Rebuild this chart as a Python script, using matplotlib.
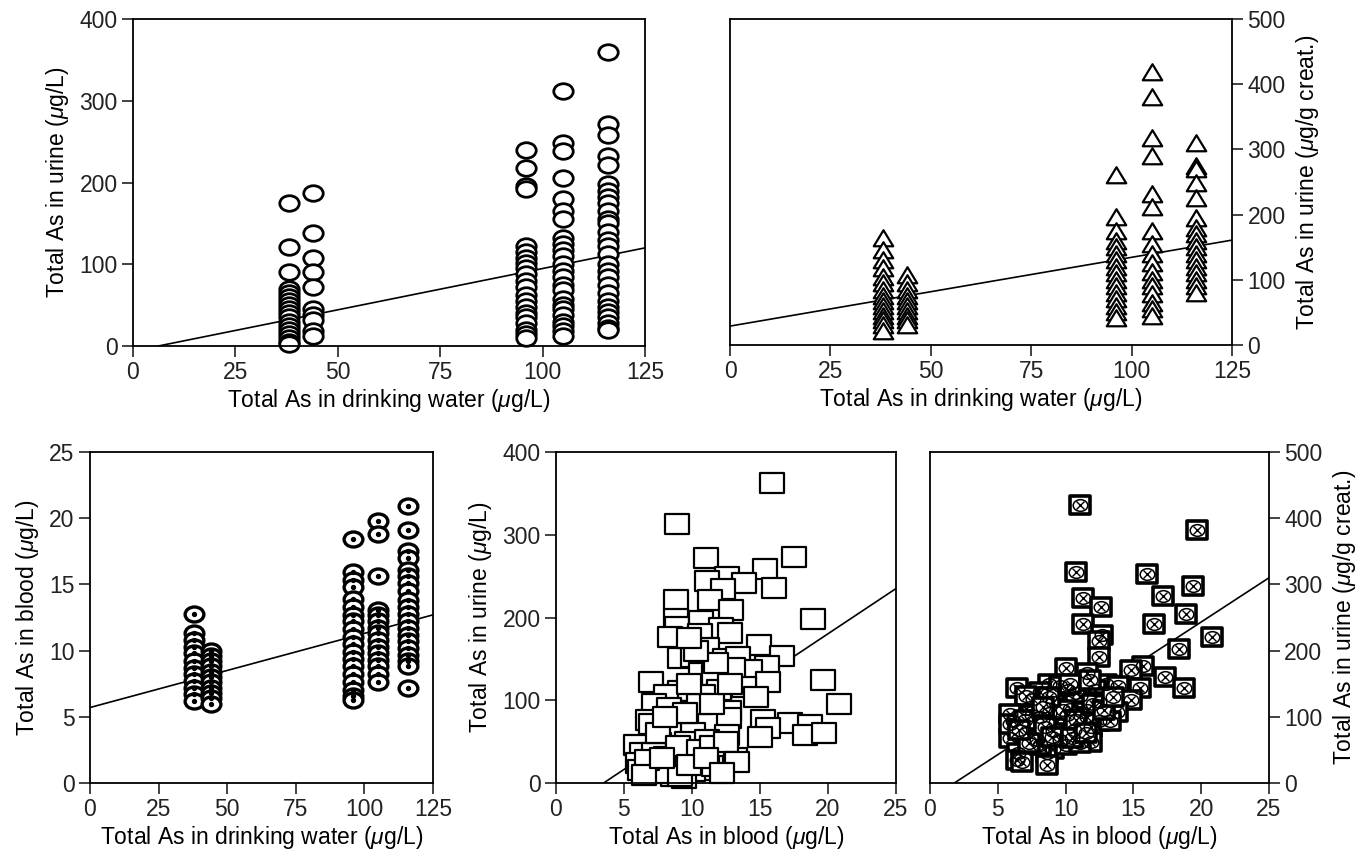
import numpy as np
import matplotlib
matplotlib.use("Agg")
from matplotlib import pyplot as plt
from matplotlib.path import Path
from matplotlib.transforms import Affine2D

plt.rcParams['font.family'] = ['Liberation Sans', 'DejaVu Sans']
plt.rcParams['mathtext.fontset'] = 'custom'
plt.rcParams['mathtext.rm'] = 'Liberation Sans'
plt.rcParams['mathtext.it'] = 'Liberation Sans:italic'

# ---- data ----
water_levels = [38, 44, 96, 105, 116]   # total As in drinking water (ug/L)

urine_ugL_groups = [
    [175, 121, 91, 70, 65, 60, 55, 50, 45, 40, 35, 30, 25, 20, 15, 10, 5, 2],
    [187, 138, 108, 90, 72, 45, 38, 32, 18, 12],
    [240, 218, 196, 192, 122, 115, 108, 102, 95, 88, 80, 72, 62, 55, 48, 40, 35, 28, 20, 15, 10],
    [312, 248, 238, 205, 180, 165, 155, 132, 125, 118, 110, 100, 92, 85, 75, 68, 58, 50, 45, 38,
     30, 25, 18, 12],
    [360, 272, 258, 232, 222, 198, 190, 182, 175, 165, 155, 150, 140, 130, 122, 112, 100, 92, 85,
     75, 65, 55, 48, 42, 35, 28, 22, 20],
]

urine_creat_groups = [
    [164, 145, 130, 118, 105, 95, 84, 75, 68, 60, 52, 45, 38, 30, 22],
    [108, 95, 85, 75, 68, 60, 52, 45, 38, 30],
    [260, 197, 175, 160, 150, 140, 130, 120, 110, 100, 90, 80, 70, 60, 50, 42],
    [418, 380, 318, 290, 232, 212, 175, 155, 140, 125, 112, 100, 90, 78, 65, 55, 45],
    [310, 275, 270, 248, 225, 195, 180, 170, 160, 150, 140, 130, 120, 110, 100, 90, 80],
]

blood_groups = [
    [12.8, 11.3, 10.8, 10.3, 9.8, 9.2, 8.7, 8.2, 7.7, 7.2, 6.7, 6.2],
    [10.0, 9.6, 9.2, 8.8, 8.4, 8.0, 7.6, 7.2, 6.8, 6.4, 6.0],
    [18.4, 15.9, 15.3, 14.8, 13.9, 13.3, 12.7, 12.2, 11.6, 11.0, 10.5, 9.9, 9.4, 8.8, 8.2, 7.6,
     7.0, 6.6, 6.3],
    [19.8, 18.8, 15.6, 13.1, 12.7, 12.2, 11.7, 11.3, 10.8, 10.3, 9.8, 9.3, 8.8, 8.2, 7.6],
    [20.9, 19.1, 17.5, 17.0, 16.1, 15.6, 15.1, 14.5, 13.8, 13.3, 12.8, 12.2, 11.7, 11.2, 10.7,
     10.2, 9.7, 9.2, 8.8, 7.2],
]

blood_d = [15.9, 8.9, 11.0, 17.5, 15.4, 16.0, 12.6, 13.8, 11.1, 12.3, 11.3, 8.8, 12.9, 18.9, 8.8,
           8.9, 10.7, 8.4, 12.1, 12.8, 10.6, 14.9, 11.1, 9.1, 10.1, 12.4, 13.4, 16.6, 15.5, 14.3,
           13.0, 10.7, 11.6, 19.6, 7.0, 15.6, 13.8, 12.0, 9.1, 8.1, 10.8, 14.7, 20.8, 7.2, 10.1,
           11.8, 12.7, 8.3, 6.8, 7.0, 10.3, 8.6, 11.3, 12.7, 17.2, 15.2, 15.6, 18.7, 15.0, 18.3,
           19.7, 8.6, 10.1, 12.6, 9.6, 11.1, 5.9, 7.6, 8.6, 6.3, 7.2, 10.1, 12.1, 12.8, 6.0, 7.1,
           8.6, 9.4, 11.1, 10.1, 6.2, 8.6, 9.4, 8.1, 6.7, 8.1, 10.7, 11.6, 12.9, 13.2, 9.6, 9.1,
           7.5, 9.0, 10.5, 11.5, 12.5, 13.3, 6.5, 7.8, 9.8, 11.0, 12.2, 10.5, 9.5, 11.5, 12.8,
           8.0, 9.8, 11.8, 10.3, 9.8]
urine_d = [363, 313, 272, 273, 259, 236, 249, 242, 244, 234, 221, 221, 209, 198, 198,
           188, 196, 177, 187, 181, 180, 167, 163, 151, 152, 150, 152, 153, 141, 136,
           139, 133, 131, 125, 122, 122, 116, 112, 111, 106, 106, 104, 96, 95, 87,
           87, 87, 91, 76, 71, 72, 74, 72, 78, 72, 76, 66, 70, 56, 58,
           60, 60, 60, 58, 50, 52, 46, 48, 42, 36, 36, 36, 40, 28, 24, 20,
           24, 20, 16, 14, 16, 8, 6, 12, 28, 32, 28, 20, 28, 30, 32, 8,
           60, 45, 40, 45, 50, 25, 10, 30, 22, 30, 12, 95, 85, 95, 120,
           80, 120, 145, 160, 175]

blood_e = [11.1, 19.7, 10.8, 16.0, 19.4, 17.2, 11.3, 12.6, 18.9, 11.3, 16.5, 12.7, 20.8, 12.5,
           18.4, 12.5, 15.7, 14.8, 10.0, 11.6, 17.3, 8.8, 13.0, 13.9, 6.4, 18.7, 10.2, 12.2, 15.5,
           7.6, 9.1, 11.1, 12.5, 14.8, 10.3, 11.6, 8.8, 7.1, 6.1, 8.1, 9.3, 11.2, 13.8, 12.5, 11.9,
           5.9, 7.1, 9.1, 10.6, 7.9, 9.6, 11.9, 6.5, 6.4, 8.6, 9.1, 10.0, 8.6, 6.8, 8.1, 11.1,
           13.3, 10.8, 9.6, 8.1, 7.1, 5.9, 5.9, 7.5, 10.1, 11.6,
           7.0, 8.5, 9.8, 10.8, 12.0, 8.8, 7.3, 9.0, 10.5, 11.5, 12.8, 13.5, 6.6, 8.3, 10.3, 11.8]
urine_e = [420, 382, 319, 316, 298, 283, 280, 266, 256, 240, 240, 224, 221, 214,
           202, 191, 176, 171, 174, 166, 160, 150, 150, 147, 143, 144, 141, 141, 143,
           127, 122, 131, 122, 125, 112, 110, 105, 112, 94, 99, 92, 107, 107, 94, 84,
           68, 75, 78, 80, 65, 65, 62, 45, 35, 45, 52, 57, 27, 32, 57, 60,
           94, 136, 146, 137, 132, 104, 89, 102, 102, 99,
           95, 85, 110, 95, 120, 130, 60, 70, 68, 75, 110, 130, 80, 115, 150, 155]

# regression lines (intercept, slope)
fit_a = (-6.2, 1.01)
fit_b = (29.0, 1.055)
fit_c = (5.7, 0.056)
fit_d = (-38.3, 10.93)
fit_e = (-24.0, 13.36)

label_water = r'Total As in drinking water ($\mu$g/L)'
label_urine = r'Total As in urine ($\mu$g/L)'
label_creat = r'Total As in urine ($\mu$g/g creat.)'
label_blood = r'Total As in blood ($\mu$g/L)'

# ---- marker shapes (the scan is stretched sideways) ----
squash = Affine2D().scale(1.0, 0.8)
ellipse = Path.unit_circle().transformed(squash)
triangle = Path([(0, 0.85), (-1, -0.8), (1, -0.8), (0, 0.85)], closed=True)
rect = Path([(-1, -0.82), (1, -0.82), (1, 0.82), (-1, 0.82), (-1, -0.82)], closed=True)

FS = 16.5


def style_axes(ax, xlim, xticks, ylim, yticks, xlabel, ylabel, right=False):
    ax.set_xlim(xlim)
    ax.set_ylim(ylim)
    ax.set_xticks(xticks)
    ax.set_yticks(yticks)
    ax.set_xlabel(xlabel, fontsize=FS, labelpad=2)
    ax.set_ylabel(ylabel, fontsize=FS, labelpad=6)
    for s in ax.spines.values():
        s.set_linewidth(1.3)
    ax.tick_params(direction='out', length=8, width=1.2, labelsize=FS, pad=3,
                   color='#222222', labelcolor='#222222')
    if right:
        ax.yaxis.tick_right()
        ax.yaxis.set_label_position('right')


def fit_line(ax, fit, xmax):
    b, m = fit
    x0 = max(0.0, -b / m)
    xs = np.array([x0, xmax])
    ax.plot(xs, b + m * xs, color='black', lw=1.2, zorder=1)


fig = plt.figure(figsize=(13.71, 8.58), dpi=100)

# A: urine (ug/L) vs water
axA = fig.add_axes([0.0970, 0.5967, 0.3734, 0.3811])
fit_line(axA, fit_a, 125)
for xw, ys in zip(water_levels, urine_ugL_groups):
    axA.plot([xw] * len(ys), ys, linestyle='none', marker=ellipse, ms=14, mfc='white',
             mec='black', mew=2.0, zorder=2, clip_on=False)
style_axes(axA, (0, 125), [0, 25, 50, 75, 100, 125], (0, 400), [0, 100, 200, 300, 400],
           label_water, label_urine)

# B: urine (ug/g creat.) vs water
axB = fig.add_axes([0.5325, 0.5979, 0.3662, 0.3800])
fit_line(axB, fit_b, 125)
for xw, ys in zip(water_levels, urine_creat_groups):
    axB.plot([xw] * len(ys), ys, linestyle='none', marker=triangle, ms=14, mfc='white',
             mec='black', mew=1.6, zorder=2, clip_on=False)
style_axes(axB, (0, 125), [0, 25, 50, 75, 100, 125], (0, 500), [0, 100, 200, 300, 400, 500],
           label_water, label_creat, right=True)

# C: blood vs water
axC = fig.add_axes([0.0656, 0.0874, 0.2502, 0.3858])
fit_line(axC, fit_c, 125)
for xw, ys in zip(water_levels, blood_groups):
    axC.plot([xw] * len(ys), ys, linestyle='none', marker=ellipse, ms=13.5, mfc='white',
             mec='black', mew=2.4, zorder=2)
    axC.plot([xw] * len(ys), ys, linestyle='none', marker='o', ms=2.8, mfc='black',
             mec='black', zorder=3)
style_axes(axC, (0, 125), [0, 25, 50, 75, 100, 125], (0, 25), [0, 5, 10, 15, 20, 25],
           label_water, label_blood)

# D: urine (ug/L) vs blood
axD = fig.add_axes([0.4055, 0.0874, 0.2480, 0.3858])
fit_line(axD, fit_d, 25)
axD.plot(blood_d, urine_d, linestyle='none', marker=rect, ms=17, mfc='white', mec='black',
         mew=1.6, zorder=2, clip_on=False)
style_axes(axD, (0, 25), [0, 5, 10, 15, 20, 25], (0, 400), [0, 100, 200, 300, 400],
           label_blood, label_urine)

# E: urine (ug/g creat.) vs blood
axE = fig.add_axes([0.6783, 0.0874, 0.2473, 0.3858])
fit_line(axE, fit_e, 25)
axE.plot(blood_e, urine_e, linestyle='none', marker=rect, ms=15, mfc='white', mec='black',
         mew=2.6, zorder=2)
axE.plot(blood_e, urine_e, linestyle='none', marker=ellipse, ms=10.5, mfc='none', mec='black',
         mew=1.1, zorder=3)
axE.plot(blood_e, urine_e, linestyle='none', marker='x', ms=6, mec='black', mew=1.0, zorder=4)
style_axes(axE, (0, 25), [0, 5, 10, 15, 20, 25], (0, 500), [0, 100, 200, 300, 400, 500],
           label_blood, label_creat, right=True)

fig.savefig('out.png', dpi=100)
